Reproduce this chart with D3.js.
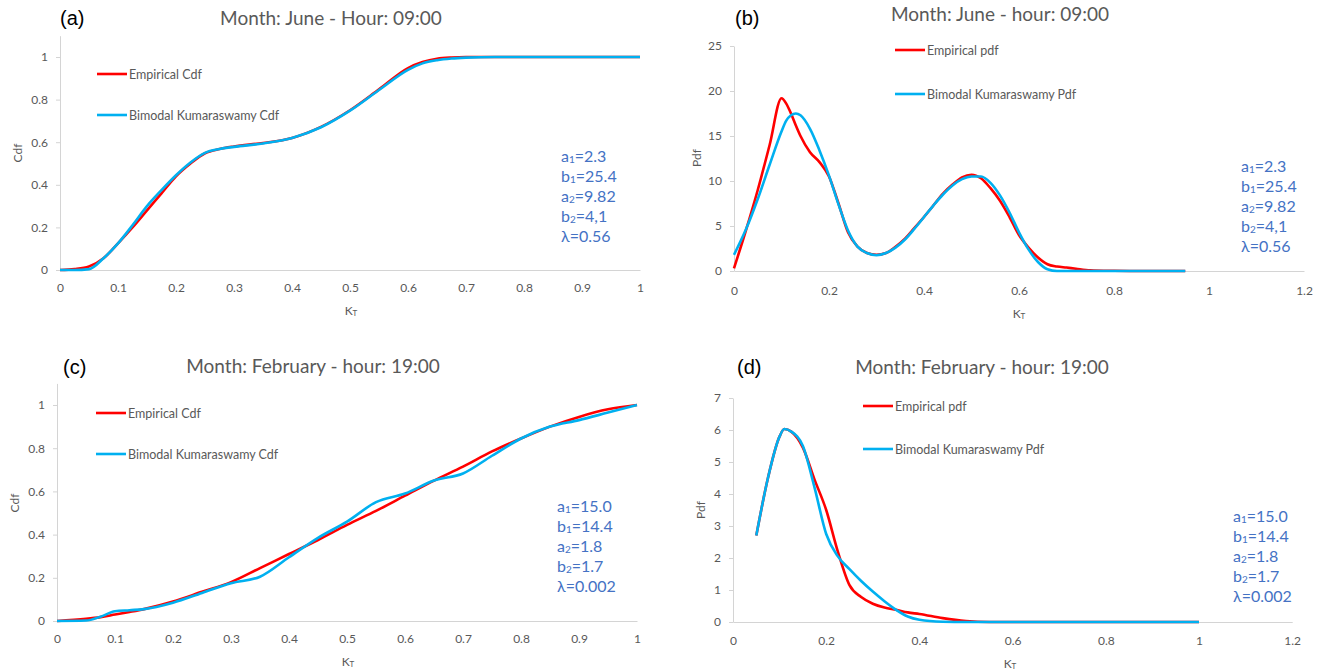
<!DOCTYPE html>
<html>
<head>
<meta charset="utf-8">
<script src="https://cdn.jsdelivr.net/npm/d3@7"></script>
<style>
  body { margin: 0; background: #fff; }
  svg { display: block; }
  text { font-family: Lato, "Open Sans", sans-serif; }
</style>
</head>
<body>
<div id="chart"></div>
<script>
// ---- data ----
const ktJuneCdf = [0, 0.025, 0.05, 0.075, 0.1, 0.125, 0.15, 0.175, 0.2, 0.225, 0.25, 0.275, 0.3, 0.35, 0.4, 0.45, 0.5, 0.55, 0.6, 0.625, 0.65, 0.675, 0.7, 0.75, 0.8, 0.85, 0.9, 0.95, 1];
const empCdfJune = [0, 0.004, 0.016, 0.055, 0.125, 0.2, 0.28, 0.36, 0.44, 0.5, 0.548, 0.568, 0.58, 0.596, 0.62, 0.672, 0.75, 0.848, 0.948, 0.976, 0.992, 0.998, 1, 1, 1, 1, 1, 1, 1];
const bkCdfJune = [0, 0, 0.004, 0.055, 0.125, 0.21, 0.3, 0.375, 0.445, 0.505, 0.55, 0.568, 0.578, 0.594, 0.62, 0.67, 0.748, 0.845, 0.94, 0.97, 0.985, 0.993, 0.997, 1, 1, 1, 1, 1, 1];

const ktJunePdf = [0, 0.025, 0.05, 0.075, 0.1, 0.11, 0.12, 0.13, 0.14, 0.16, 0.18, 0.2, 0.22, 0.24, 0.26, 0.28, 0.3, 0.32, 0.34, 0.36, 0.38, 0.4, 0.42, 0.44, 0.46, 0.48, 0.5, 0.52, 0.54, 0.56, 0.58, 0.6, 0.62, 0.64, 0.66, 0.68, 0.7, 0.72, 0.75, 0.8, 0.85, 0.9, 0.95];
const empPdfJune = [0.3, 4.5, 9.0, 14.0, 19.2, 18.6, 17.5, 16.2, 15.0, 13.2, 12.1, 10.5, 7.5, 4.3, 2.7, 2.0, 1.8, 2.0, 2.7, 3.6, 4.8, 6.0, 7.3, 8.6, 9.6, 10.4, 10.7, 10.3, 9.2, 7.8, 6.0, 4.0, 2.6, 1.5, 0.75, 0.5, 0.38, 0.25, 0.08, 0.02, 0, 0, 0];
const bkPdfJune = [1.8, 4.6, 8.0, 11.8, 15.5, 16.7, 17.3, 17.5, 17.3, 15.8, 13.4, 10.6, 7.4, 4.5, 2.7, 2.0, 1.75, 2.0, 2.6, 3.5, 4.7, 6.0, 7.3, 8.5, 9.5, 10.2, 10.5, 10.5, 9.8, 8.4, 6.5, 4.3, 2.4, 1.0, 0.2, 0, 0, 0, 0, 0, 0, 0, 0];

const ktFebCdf = [0, 0.05, 0.075, 0.1, 0.125, 0.15, 0.2, 0.25, 0.3, 0.35, 0.4, 0.45, 0.5, 0.55, 0.6, 0.65, 0.7, 0.75, 0.8, 0.85, 0.9, 0.95, 1];
const empCdfFeb = [0, 0.01, 0.018, 0.03, 0.042, 0.055, 0.09, 0.135, 0.18, 0.245, 0.31, 0.375, 0.445, 0.51, 0.58, 0.65, 0.715, 0.785, 0.845, 0.9, 0.945, 0.98, 1];
const bkCdfFeb = [0, 0.002, 0.02, 0.045, 0.05, 0.055, 0.085, 0.13, 0.175, 0.205, 0.295, 0.385, 0.46, 0.55, 0.59, 0.65, 0.683, 0.765, 0.845, 0.9, 0.93, 0.965, 1];

const ktFebPdf = [0.05, 0.075, 0.1, 0.11, 0.125, 0.15, 0.175, 0.2, 0.225, 0.25, 0.275, 0.3, 0.325, 0.35, 0.375, 0.4, 0.45, 0.5, 0.55, 0.6, 0.7, 0.8, 0.9, 1];
const empPdfFeb = [2.7, 4.5, 5.8, 6.03, 5.95, 5.45, 4.45, 3.5, 2.2, 1.15, 0.78, 0.57, 0.45, 0.38, 0.3, 0.25, 0.12, 0.03, 0, 0, 0, 0, 0, 0];
const bkPdfFeb = [2.7, 4.5, 5.8, 6.03, 5.95, 5.5, 4.2, 2.75, 2.05, 1.65, 1.28, 0.95, 0.65, 0.38, 0.17, 0.07, 0.01, 0, 0, 0, 0, 0, 0, 0];

const cdfXTicks = [0, 0.1, 0.2, 0.3, 0.4, 0.5, 0.6, 0.7, 0.8, 0.9, 1];
const pdfXTicks = [0, 0.2, 0.4, 0.6, 0.8, 1, 1.2];
const cdfYTicks = [0, 0.2, 0.4, 0.6, 0.8, 1];
const pdfJuneYTicks = [0, 5, 10, 15, 20, 25];
const pdfFebYTicks = [0, 1, 2, 3, 4, 5, 6, 7];

const paramNames = ["a", "b", "a", "b", "λ"];
const paramSubs = ["1", "1", "2", "2", ""];
const paramsJune = ["=2.3", "=25.4", "=9.82", "=4,1", "=0.56"];
const paramsFeb = ["=15.0", "=14.4", "=1.8", "=1.7", "=0.002"];

// ---- layout ----
const RED = "#ff0000", BLUE = "#00b0f0", GREY = "#595959", AXIS = "#d4d4d4", PARAM = "#4472c4";

const svg = d3.select("#chart").append("svg")
  .attr("width", 1325)
  .attr("height", 671);

const panels = [
  { tag: "(a)", tagX: 60, tagY: 18, title: "Month: June - Hour: 09:00", titleX: 331, titleY: 17,
    x: [60, 640], xDomain: [0, 1], y: [270, 270 - 213 * 1.1], yDomain: [0, 1.1], xTicks: cdfXTicks, yTicks: cdfYTicks,
    yLabel: "Cdf", yLabelX: 17, yLabelY: 153, ktX: 351, ktY: 310, tickPad: 13,
    kt: ktJuneCdf, emp: empCdfJune, bk: bkCdfJune, legX: 97, legY: [74, 115],
    legNames: ["Empirical Cdf", "Bimodal Kumaraswamy Cdf"], parX: 561, parY: 155, params: paramsJune },
  { tag: "(b)", tagX: 735, tagY: 18, title: "Month: June - hour: 09:00", titleX: 1000, titleY: 13,
    x: [734, 1304], xDomain: [0, 1.2], y: [271, 46], yDomain: [0, 25], xTicks: pdfXTicks, yTicks: pdfJuneYTicks,
    yLabel: "Pdf", yLabelX: 696, yLabelY: 158, ktX: 1019, ktY: 313, tickPad: 15,
    kt: ktJunePdf, emp: empPdfJune, bk: bkPdfJune, legX: 895, legY: [50, 94],
    legNames: ["Empirical pdf", "Bimodal Kumaraswamy Pdf"], parX: 1241, parY: 165, params: paramsJune },
  { tag: "(c)", tagX: 63, tagY: 367, title: "Month: February - hour: 19:00", titleX: 313, titleY: 365,
    x: [57, 637], xDomain: [0, 1], y: [621, 621 - 216 * 1.1], yDomain: [0, 1.1], xTicks: cdfXTicks, yTicks: cdfYTicks,
    yLabel: "Cdf", yLabelX: 14, yLabelY: 503, ktX: 348, ktY: 661, tickPad: 13,
    kt: ktFebCdf, emp: empCdfFeb, bk: bkCdfFeb, legX: 96, legY: [413, 454],
    legNames: ["Empirical Cdf", "Bimodal Kumaraswamy Cdf"], parX: 557, parY: 505, params: paramsFeb },
  { tag: "(d)", tagX: 737, tagY: 367, title: "Month: February - hour: 19:00", titleX: 982, titleY: 366,
    x: [733, 733 + 466 * 1.2], xDomain: [0, 1.2], y: [622, 398], yDomain: [0, 7], xTicks: pdfXTicks, yTicks: pdfFebYTicks,
    yLabel: "Pdf", yLabelX: 700, yLabelY: 510, ktX: 1010, ktY: 663, tickPad: 14,
    kt: ktFebPdf, emp: empPdfFeb, bk: bkPdfFeb, legX: 863, legY: [406, 449],
    legNames: ["Empirical pdf", "Bimodal Kumaraswamy Pdf"], parX: 1233, parY: 515, params: paramsFeb }
];

panels.forEach(p => {
  const x = d3.scaleLinear().domain(p.xDomain).range(p.x);
  const y = d3.scaleLinear().domain(p.yDomain).range(p.y);
  const g = svg.append("g");

  // y axis
  const ya = g.append("g")
    .attr("transform", `translate(${p.x[0]},0)`)
    .call(d3.axisLeft(y).tickValues(p.yTicks).tickSize(4).tickSizeOuter(0).tickPadding(8).tickFormat(d => String(d)));
  ya.select(".domain").attr("stroke", AXIS);
  ya.selectAll(".tick line").attr("stroke", AXIS);
  ya.selectAll(".tick text").attr("fill", GREY).style("font-size", "12px").style("font-family", "Lato");

  // x axis
  const xa = g.append("g")
    .attr("transform", `translate(0,${p.y[0]})`)
    .call(d3.axisBottom(x).tickValues(p.xTicks).tickSize(0).tickPadding(p.tickPad).tickFormat(d => String(d)));
  xa.select(".domain").attr("stroke", AXIS);
  xa.selectAll(".tick text").attr("fill", GREY).style("font-size", "12px").style("font-family", "Lato");

  // curves
  const line = d3.line()
    .x(d => x(d[0]))
    .y(d => y(d[1]))
    .curve(d3.curveMonotoneX);

  [[p.emp, RED], [p.bk, BLUE]].forEach(([vals, col]) => {
    g.append("path")
      .datum(p.kt.map((k, i) => [k, vals[i]]))
      .attr("fill", "none")
      .attr("stroke", col)
      .attr("stroke-width", 2.6)
      .attr("stroke-linejoin", "round")
      .attr("d", line);
  });

  // legend
  [RED, BLUE].forEach((col, i) => {
    g.append("line")
      .attr("x1", p.legX).attr("x2", p.legX + 30)
      .attr("y1", p.legY[i]).attr("y2", p.legY[i])
      .attr("stroke", col).attr("stroke-width", 2.6);
    g.append("text")
      .attr("x", p.legX + 32).attr("y", p.legY[i])
      .attr("dominant-baseline", "central")
      .attr("fill", GREY)
      .style("font-size", "12.5px")
      .text(p.legNames[i]);
  });

  // titles and labels
  g.append("text")
    .attr("x", p.tagX).attr("y", p.tagY)
    .attr("dominant-baseline", "central")
    .style("font-family", "'Liberation Sans', Arial, sans-serif")
    .style("font-size", "20px")
    .attr("fill", "#000")
    .text(p.tag);

  g.append("text")
    .attr("x", p.titleX).attr("y", p.titleY)
    .attr("text-anchor", "middle")
    .attr("dominant-baseline", "central")
    .attr("fill", GREY)
    .style("font-size", "19px")
    .text(p.title);

  g.append("text")
    .attr("transform", `translate(${p.yLabelX},${p.yLabelY}) rotate(-90)`)
    .attr("text-anchor", "middle")
    .attr("dominant-baseline", "central")
    .attr("fill", GREY)
    .style("font-size", "12px")
    .text(p.yLabel);

  const kt = g.append("text")
    .attr("x", p.ktX).attr("y", p.ktY)
    .attr("text-anchor", "middle")
    .attr("dominant-baseline", "central")
    .attr("fill", GREY)
    .style("font-size", "12px");
  kt.append("tspan").text("K");
  kt.append("tspan").attr("dy", 3).style("font-size", "8px").text("T");

  // fitted parameters
  p.params.forEach((v, i) => {
    const t = g.append("text")
      .attr("x", p.parX).attr("y", p.parY + i * 20)
      .attr("dominant-baseline", "central")
      .attr("fill", PARAM)
      .style("font-size", "16px");
    t.append("tspan").text(paramNames[i]);
    if (paramSubs[i]) {
      t.append("tspan").attr("dy", 4).style("font-size", "10px").text(paramSubs[i]);
      t.append("tspan").attr("dy", -4).text(v);
    } else {
      t.append("tspan").text(v);
    }
  });
});
</script>
</body>
</html>
